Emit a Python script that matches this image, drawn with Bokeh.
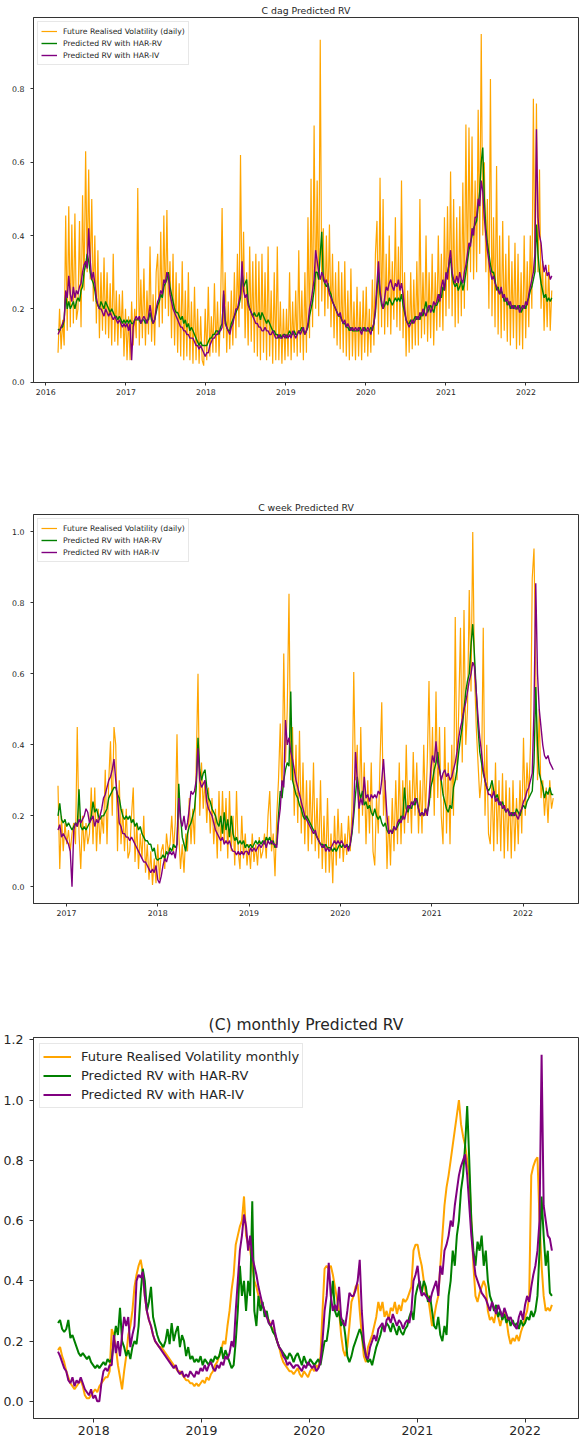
import pandas as pd
from bokeh.plotting import figure
from bokeh.models import Range1d, FixedTicker, DatetimeTickFormatter, PrintfTickFormatter
from bokeh.layouts import column
from bokeh.embed import file_html
from bokeh.resources import INLINE

FONT = "DejaVu Sans"
TEXT = "#262626"
SPINE = "#333333"
ORANGE = "orange"
GREEN = "green"
PURPLE = "purple"

# ---------------- daily chart (weekly samples) ----------------
daily_start = "2016-02-26"
daily_future_rv = [
    0.08, 0.2, 0.09, 0.17, 0.1, 0.455, 0.14, 0.48, 0.15, 0.43, 0.16, 0.46, 0.17,
    0.2, 0.44, 0.15, 0.51, 0.25, 0.63, 0.3, 0.58, 0.28, 0.5, 0.22, 0.4, 0.16,
    0.36, 0.12, 0.3, 0.14, 0.34, 0.13, 0.3, 0.12, 0.27, 0.1, 0.35, 0.11, 0.25,
    0.1, 0.24, 0.12, 0.25, 0.07, 0.2, 0.06, 0.18, 0.06, 0.22, 0.1, 0.2, 0.12,
    0.53, 0.1, 0.28, 0.12, 0.31, 0.1, 0.25, 0.13, 0.37, 0.11, 0.24, 0.1, 0.3,
    0.35, 0.15, 0.41, 0.16, 0.455, 0.2, 0.47, 0.18, 0.33, 0.12, 0.35, 0.1, 0.3,
    0.08, 0.27, 0.07, 0.33, 0.06, 0.25, 0.07, 0.3, 0.06, 0.22, 0.05, 0.26, 0.06,
    0.2, 0.05, 0.18, 0.06, 0.045, 0.2, 0.06, 0.26, 0.07, 0.18, 0.08, 0.27, 0.08,
    0.22, 0.07, 0.2, 0.475, 0.12, 0.3, 0.08, 0.22, 0.09, 0.25, 0.1, 0.3, 0.12,
    0.35, 0.15, 0.62, 0.2, 0.41, 0.12, 0.3, 0.1, 0.37, 0.11, 0.33, 0.08, 0.35,
    0.07, 0.33, 0.06, 0.35, 0.08, 0.3, 0.06, 0.37, 0.07, 0.25, 0.05, 0.3, 0.06,
    0.37, 0.06, 0.22, 0.05, 0.2, 0.06, 0.2, 0.07, 0.3, 0.06, 0.22, 0.08, 0.25,
    0.07, 0.36, 0.08, 0.25, 0.06, 0.3, 0.08, 0.45, 0.12, 0.555, 0.15, 0.7, 0.2,
    0.55, 0.18, 0.934, 0.22, 0.42, 0.18, 0.4, 0.2, 0.43, 0.15, 0.35, 0.12, 0.3,
    0.1, 0.33, 0.09, 0.3, 0.08, 0.33, 0.07, 0.25, 0.06, 0.31, 0.07, 0.22, 0.06,
    0.26, 0.07, 0.22, 0.06, 0.25, 0.08, 0.26, 0.07, 0.2, 0.08, 0.28, 0.1, 0.35,
    0.44, 0.13, 0.558, 0.15, 0.5, 0.13, 0.35, 0.15, 0.4, 0.13, 0.33, 0.17, 0.45,
    0.15, 0.37, 0.14, 0.55, 0.12, 0.3, 0.07, 0.25, 0.08, 0.3, 0.09, 0.28, 0.1,
    0.33, 0.1, 0.5, 0.12, 0.3, 0.13, 0.4, 0.11, 0.3, 0.12, 0.35, 0.1, 0.3,
    0.14, 0.4, 0.15, 0.35, 0.14, 0.45, 0.18, 0.48, 0.2, 0.575, 0.18, 0.5, 0.15,
    0.45, 0.16, 0.48, 0.18, 0.545, 0.2, 0.703, 0.25, 0.695, 0.3, 0.67, 0.28, 0.55,
    0.3, 0.743, 0.35, 0.95, 0.4, 0.6, 0.3, 0.5, 0.2, 0.827, 0.18, 0.45, 0.15,
    0.59, 0.13, 0.4, 0.12, 0.44, 0.14, 0.35, 0.11, 0.4, 0.1, 0.33, 0.12, 0.38,
    0.09, 0.35, 0.1, 0.3, 0.09, 0.4, 0.12, 0.33, 0.15, 0.4, 0.2, 0.773, 0.3,
    0.76, 0.3, 0.58, 0.2, 0.33, 0.14, 0.3, 0.15, 0.32, 0.14, 0.25,
]
daily_har_rv = [
    0.145, 0.14, 0.15, 0.15, 0.17, 0.24, 0.2, 0.22, 0.2, 0.21, 0.22, 0.2, 0.22,
    0.23, 0.22, 0.25, 0.26, 0.3, 0.32, 0.35, 0.33, 0.3, 0.28, 0.27, 0.25, 0.22,
    0.21, 0.2, 0.22, 0.21, 0.2, 0.22, 0.21, 0.2, 0.19, 0.2, 0.19, 0.18, 0.18,
    0.17, 0.18, 0.17, 0.16, 0.17, 0.16, 0.17, 0.16, 0.17, 0.16, 0.16, 0.17, 0.17,
    0.17, 0.17, 0.16, 0.17, 0.17, 0.16, 0.17, 0.17, 0.19, 0.17, 0.16, 0.17, 0.19,
    0.21, 0.22, 0.24, 0.23, 0.26, 0.27, 0.28, 0.3, 0.26, 0.24, 0.22, 0.2, 0.19,
    0.19, 0.18, 0.17, 0.18, 0.16, 0.17, 0.15, 0.16, 0.14, 0.15, 0.14, 0.13, 0.12,
    0.11, 0.1, 0.11, 0.1, 0.1, 0.1, 0.1, 0.11, 0.12, 0.12, 0.13, 0.13, 0.14,
    0.14, 0.13, 0.15, 0.16, 0.24, 0.17, 0.15, 0.14, 0.14, 0.16, 0.17, 0.18, 0.19,
    0.2, 0.21, 0.23, 0.3, 0.26, 0.27, 0.28, 0.22, 0.2, 0.19, 0.18, 0.19, 0.18,
    0.18, 0.19, 0.17, 0.19, 0.18, 0.17, 0.16, 0.17, 0.16, 0.15, 0.14, 0.14, 0.13,
    0.13, 0.12, 0.13, 0.12, 0.13, 0.13, 0.12, 0.13, 0.14, 0.13, 0.13, 0.14, 0.13,
    0.13, 0.14, 0.14, 0.15, 0.14, 0.13, 0.14, 0.15, 0.18, 0.2, 0.22, 0.25, 0.3,
    0.3, 0.28, 0.35, 0.41, 0.28, 0.27, 0.26, 0.27, 0.25, 0.24, 0.22, 0.21, 0.2,
    0.19, 0.18, 0.18, 0.17, 0.16, 0.16, 0.15, 0.15, 0.14, 0.15, 0.14, 0.14, 0.14,
    0.14, 0.14, 0.15, 0.14, 0.14, 0.15, 0.14, 0.14, 0.14, 0.15, 0.14, 0.16, 0.19,
    0.25, 0.3, 0.24, 0.21, 0.2, 0.21, 0.22, 0.21, 0.23, 0.22, 0.21, 0.22, 0.23,
    0.22, 0.23, 0.22, 0.24, 0.21, 0.19, 0.17, 0.16, 0.16, 0.17, 0.16, 0.17, 0.18,
    0.17, 0.18, 0.17, 0.19, 0.18, 0.2, 0.22, 0.19, 0.2, 0.21, 0.2, 0.19, 0.21,
    0.21, 0.22, 0.24, 0.23, 0.26, 0.25, 0.29, 0.3, 0.32, 0.34, 0.29, 0.27, 0.26,
    0.27, 0.25, 0.26, 0.28, 0.25, 0.27, 0.3, 0.33, 0.36, 0.38, 0.4, 0.42, 0.43,
    0.44, 0.48, 0.52, 0.6, 0.64, 0.5, 0.42, 0.38, 0.35, 0.32, 0.3, 0.3, 0.28,
    0.25, 0.26, 0.24, 0.25, 0.24, 0.22, 0.23, 0.21, 0.22, 0.2, 0.21, 0.2, 0.21,
    0.2, 0.2, 0.21, 0.19, 0.2, 0.21, 0.2, 0.22, 0.23, 0.25, 0.26, 0.28, 0.3,
    0.43, 0.35, 0.3, 0.27, 0.25, 0.23, 0.24, 0.22, 0.23, 0.22, 0.23,
]
daily_har_iv = [
    0.13, 0.14, 0.15, 0.16, 0.17, 0.25, 0.23, 0.29, 0.24, 0.22, 0.26, 0.23, 0.25,
    0.24, 0.26, 0.27, 0.3, 0.32, 0.33, 0.31, 0.42, 0.33, 0.28, 0.3, 0.27, 0.23,
    0.21, 0.2, 0.2, 0.19, 0.18, 0.2, 0.19, 0.18, 0.19, 0.18, 0.17, 0.18, 0.17,
    0.16, 0.17, 0.16, 0.15, 0.16, 0.15, 0.16, 0.14, 0.16, 0.06, 0.15, 0.17, 0.18,
    0.17, 0.18, 0.16, 0.17, 0.18, 0.17, 0.16, 0.18, 0.21, 0.18, 0.16, 0.17, 0.2,
    0.22, 0.23, 0.25, 0.24, 0.28, 0.27, 0.3, 0.29, 0.24, 0.22, 0.2, 0.19, 0.18,
    0.17, 0.16, 0.15, 0.15, 0.14, 0.14, 0.13, 0.13, 0.12, 0.12, 0.12, 0.11, 0.1,
    0.1, 0.09, 0.1, 0.09, 0.08, 0.07, 0.08, 0.08, 0.1, 0.11, 0.12, 0.12, 0.13,
    0.13, 0.14, 0.14, 0.15, 0.25, 0.16, 0.15, 0.14, 0.13, 0.15, 0.16, 0.18, 0.2,
    0.2, 0.22, 0.24, 0.33, 0.25, 0.23, 0.24, 0.21, 0.2, 0.19, 0.18, 0.17, 0.16,
    0.16, 0.15, 0.15, 0.14, 0.14, 0.15, 0.14, 0.14, 0.13, 0.13, 0.14, 0.13, 0.12,
    0.12, 0.13, 0.12, 0.12, 0.13, 0.12, 0.13, 0.12, 0.13, 0.12, 0.14, 0.13, 0.12,
    0.13, 0.14, 0.13, 0.14, 0.15, 0.13, 0.14, 0.16, 0.2, 0.22, 0.25, 0.28, 0.36,
    0.33, 0.3, 0.28, 0.3, 0.29, 0.27, 0.28, 0.26, 0.24, 0.23, 0.22, 0.21, 0.2,
    0.19, 0.18, 0.19, 0.17, 0.16, 0.17, 0.15, 0.16, 0.15, 0.14, 0.15, 0.14, 0.15,
    0.14, 0.15, 0.14, 0.13, 0.15, 0.14, 0.14, 0.15, 0.14, 0.13, 0.15, 0.16, 0.2,
    0.27, 0.33, 0.25, 0.22, 0.2, 0.23, 0.26, 0.25, 0.27, 0.28, 0.26, 0.25, 0.27,
    0.26, 0.28, 0.25, 0.27, 0.24, 0.2, 0.17, 0.16, 0.15, 0.16, 0.17, 0.16, 0.17,
    0.18, 0.17, 0.19, 0.18, 0.2, 0.19, 0.18, 0.2, 0.21, 0.19, 0.2, 0.22, 0.21,
    0.22, 0.24, 0.22, 0.26, 0.28, 0.25, 0.3, 0.28, 0.33, 0.36, 0.3, 0.28, 0.27,
    0.29, 0.27, 0.3, 0.28, 0.27, 0.3, 0.32, 0.35, 0.38, 0.37, 0.42, 0.4, 0.45,
    0.45, 0.5, 0.48, 0.55, 0.52, 0.45, 0.4, 0.36, 0.33, 0.3, 0.28, 0.29, 0.27,
    0.26, 0.25, 0.24, 0.26, 0.23, 0.24, 0.22, 0.23, 0.21, 0.22, 0.2, 0.21, 0.2,
    0.2, 0.21, 0.19, 0.2, 0.21, 0.2, 0.22, 0.21, 0.24, 0.26, 0.28, 0.3, 0.35,
    0.69, 0.45, 0.4, 0.38, 0.33, 0.3, 0.32, 0.29, 0.3, 0.28, 0.29,
]

# ---------------- weekly chart ----------------
week_start = "2016-11-28"
week_future_rv = [
    0.285, 0.05, 0.2, 0.1, 0.18, 0.12, 0.16, 0.1, 0.15, 0.18, 0.12, 0.45, 0.15,
    0.05, 0.2, 0.1, 0.18, 0.12, 0.15, 0.28, 0.12, 0.28, 0.1, 0.22, 0.12, 0.2,
    0.15, 0.33, 0.12, 0.3, 0.41, 0.2, 0.45, 0.4, 0.1, 0.3, 0.12, 0.22, 0.1,
    0.22, 0.08, 0.1, 0.2, 0.28, 0.07, 0.18, 0.05, 0.15, 0.08, 0.2, 0.04, 0.12,
    0.02, 0.1, 0.005, 0.08, 0.01, 0.12, 0.02, 0.1, 0.12, 0.05, 0.15, 0.1, 0.12,
    0.2, 0.1, 0.18, 0.43, 0.15, 0.05, 0.12, 0.04, 0.15, 0.1, 0.25, 0.12, 0.22,
    0.12, 0.35, 0.6, 0.2, 0.35, 0.22, 0.3, 0.18, 0.28, 0.15, 0.25, 0.12, 0.22,
    0.08, 0.27, 0.1, 0.27, 0.12, 0.25, 0.08, 0.27, 0.1, 0.2, 0.06, 0.27, 0.1,
    0.05, 0.2, 0.08, 0.15, 0.06, 0.12, 0.05, 0.15, 0.07, 0.12, 0.06, 0.14, 0.08,
    0.1, 0.15, 0.08, 0.2, 0.27, 0.1, 0.15, 0.03, 0.2, 0.3, 0.46, 0.25, 0.657,
    0.35, 0.5, 0.826, 0.3, 0.45, 0.2, 0.4, 0.18, 0.44, 0.15, 0.35, 0.12, 0.3,
    0.1, 0.3, 0.12, 0.35, 0.1, 0.25, 0.08, 0.3, 0.05, 0.2, 0.04, 0.25, 0.04,
    0.15, 0.01, 0.2, 0.06, 0.22, 0.08, 0.18, 0.07, 0.15, 0.09, 0.2, 0.1, 0.22,
    0.605, 0.3, 0.4, 0.15, 0.45, 0.2, 0.35, 0.12, 0.3, 0.15, 0.35, 0.1, 0.06,
    0.25, 0.15, 0.35, 0.52, 0.2, 0.3, 0.05, 0.2, 0.06, 0.25, 0.1, 0.3, 0.12,
    0.35, 0.12, 0.3, 0.15, 0.4, 0.18, 0.3, 0.15, 0.38, 0.2, 0.35, 0.15, 0.3,
    0.15, 0.4, 0.2, 0.35, 0.58, 0.25, 0.45, 0.2, 0.55, 0.25, 0.45, 0.2, 0.12,
    0.45, 0.15, 0.35, 0.12, 0.4, 0.2, 0.76, 0.3, 0.5, 0.73, 0.35, 0.78, 0.4,
    0.5, 0.836, 0.55, 1.0, 0.6, 0.45, 0.35, 0.25, 0.3, 0.73, 0.2, 0.4, 0.15,
    0.12, 0.3, 0.1, 0.35, 0.12, 0.3, 0.1, 0.32, 0.08, 0.3, 0.1, 0.28, 0.08,
    0.3, 0.1, 0.25, 0.12, 0.3, 0.15, 0.42, 0.2, 0.35, 0.25, 0.4, 0.87, 0.953,
    0.6, 0.3, 0.5, 0.25, 0.3, 0.2, 0.28, 0.18, 0.3, 0.22, 0.25,
]
week_har_rv = [
    0.2, 0.235, 0.19, 0.18, 0.19, 0.17, 0.18, 0.17, 0.16, 0.17, 0.18, 0.17, 0.275,
    0.17, 0.16, 0.17, 0.16, 0.17, 0.18, 0.2, 0.24, 0.21, 0.22, 0.2, 0.19, 0.2,
    0.2, 0.21, 0.22, 0.25, 0.26, 0.27, 0.28, 0.28, 0.26, 0.25, 0.22, 0.2, 0.19,
    0.2, 0.19, 0.2, 0.18, 0.19, 0.17, 0.18, 0.16, 0.17, 0.15, 0.14, 0.13, 0.13,
    0.12, 0.12, 0.1, 0.11, 0.08, 0.075, 0.08, 0.08, 0.09, 0.08, 0.1, 0.09, 0.11,
    0.1, 0.12, 0.11, 0.12, 0.29, 0.2, 0.14, 0.12, 0.1, 0.15, 0.17, 0.18, 0.2,
    0.22, 0.28, 0.42, 0.33, 0.3, 0.32, 0.33, 0.28, 0.25, 0.24, 0.22, 0.21, 0.2,
    0.18, 0.17, 0.2, 0.15, 0.21, 0.16, 0.19, 0.14, 0.2, 0.15, 0.13, 0.14, 0.12,
    0.13, 0.12, 0.13, 0.11, 0.12, 0.11, 0.12, 0.11, 0.12, 0.13, 0.12, 0.13, 0.12,
    0.13, 0.12, 0.14, 0.13, 0.14, 0.12, 0.13, 0.11, 0.12, 0.2, 0.27, 0.25, 0.3,
    0.33, 0.35, 0.34, 0.55, 0.3, 0.28, 0.26, 0.25, 0.23, 0.22, 0.2, 0.19, 0.2,
    0.19, 0.18, 0.17, 0.16, 0.15, 0.14, 0.13, 0.12, 0.12, 0.11, 0.12, 0.11, 0.11,
    0.11, 0.1, 0.11, 0.1, 0.11, 0.12, 0.11, 0.12, 0.11, 0.12, 0.11, 0.12, 0.15,
    0.2, 0.26, 0.31, 0.27, 0.25, 0.27, 0.23, 0.24, 0.22, 0.23, 0.21, 0.2, 0.22,
    0.2, 0.19, 0.2, 0.18, 0.17, 0.18, 0.16, 0.15, 0.16, 0.15, 0.17, 0.16, 0.17,
    0.18, 0.2, 0.19, 0.28, 0.22, 0.21, 0.23, 0.22, 0.24, 0.23, 0.25, 0.22, 0.2,
    0.21, 0.2, 0.22, 0.21, 0.23, 0.28, 0.3, 0.33, 0.35, 0.38, 0.33, 0.3, 0.26,
    0.24, 0.22, 0.21, 0.23, 0.22, 0.28, 0.3, 0.33, 0.38, 0.42, 0.45, 0.5, 0.55,
    0.58, 0.6, 0.68, 0.74, 0.65, 0.55, 0.45, 0.38, 0.35, 0.32, 0.3, 0.28, 0.27,
    0.28, 0.3, 0.27, 0.25, 0.26, 0.24, 0.23, 0.24, 0.22, 0.21, 0.22, 0.21, 0.2,
    0.21, 0.2, 0.22, 0.21, 0.2, 0.22, 0.23, 0.22, 0.24, 0.25, 0.26, 0.27, 0.35,
    0.563, 0.4, 0.32, 0.3, 0.28, 0.25, 0.27, 0.26, 0.28, 0.26, 0.26,
]
week_har_iv = [
    0.16, 0.175, 0.14, 0.15, 0.14, 0.13, 0.12, 0.1, 0.0, 0.16, 0.18, 0.17, 0.19,
    0.18, 0.19, 0.2, 0.22, 0.21, 0.18, 0.19, 0.2, 0.17, 0.19, 0.18, 0.2, 0.22,
    0.25, 0.26, 0.28, 0.3, 0.31, 0.33, 0.36, 0.3, 0.25, 0.18, 0.17, 0.15, 0.15,
    0.14, 0.14, 0.13, 0.14, 0.13, 0.12, 0.11, 0.1, 0.09, 0.08, 0.07, 0.07, 0.06,
    0.05, 0.04, 0.05, 0.04, 0.06, 0.02, 0.01, 0.03, 0.06, 0.08, 0.07, 0.09, 0.1,
    0.09, 0.1, 0.08, 0.12, 0.25, 0.19, 0.17, 0.2, 0.16, 0.18, 0.22, 0.27, 0.26,
    0.27, 0.3, 0.39, 0.3, 0.28, 0.29, 0.3, 0.24, 0.22, 0.21, 0.2, 0.18, 0.16,
    0.15, 0.14, 0.13, 0.14, 0.12, 0.13, 0.12, 0.13, 0.11, 0.1, 0.1, 0.09, 0.1,
    0.09, 0.1, 0.09, 0.1, 0.1, 0.09, 0.11, 0.1, 0.11, 0.1, 0.11, 0.12, 0.11,
    0.12, 0.13, 0.11, 0.13, 0.12, 0.13, 0.12, 0.12, 0.11, 0.18, 0.22, 0.3, 0.28,
    0.47, 0.4, 0.42, 0.38, 0.36, 0.33, 0.3, 0.28, 0.26, 0.24, 0.22, 0.2, 0.19,
    0.18, 0.17, 0.16, 0.15, 0.16, 0.14, 0.13, 0.12, 0.11, 0.12, 0.1, 0.11, 0.1,
    0.11, 0.12, 0.13, 0.12, 0.13, 0.12, 0.13, 0.12, 0.11, 0.12, 0.1, 0.12, 0.16,
    0.22, 0.38, 0.3, 0.22, 0.25, 0.23, 0.31, 0.25, 0.26, 0.24, 0.26, 0.25, 0.26,
    0.25, 0.27, 0.26, 0.3, 0.36, 0.28, 0.2, 0.15, 0.16, 0.15, 0.17, 0.16, 0.18,
    0.19, 0.18, 0.2, 0.19, 0.21, 0.23, 0.22, 0.24, 0.23, 0.25, 0.24, 0.22, 0.2,
    0.21, 0.2, 0.22, 0.2, 0.25, 0.33, 0.37, 0.35, 0.41, 0.35, 0.33, 0.3, 0.32,
    0.33, 0.31, 0.32, 0.3, 0.31, 0.33, 0.35, 0.38, 0.42, 0.45, 0.47, 0.5, 0.52,
    0.55, 0.58, 0.6, 0.633, 0.62, 0.55, 0.48, 0.42, 0.38, 0.33, 0.3, 0.28, 0.26,
    0.26, 0.25, 0.27, 0.24, 0.25, 0.23, 0.24, 0.22, 0.23, 0.21, 0.22, 0.2, 0.21,
    0.2, 0.21, 0.2, 0.19, 0.21, 0.22, 0.24, 0.25, 0.27, 0.28, 0.3, 0.32, 0.5,
    0.855, 0.6, 0.5, 0.45, 0.4, 0.37, 0.36, 0.37, 0.35, 0.34, 0.33,
]

# ---------------- monthly chart ----------------
month_start = "2017-09-02"
month_future_rv = [
    0.17, 0.18, 0.15, 0.13, 0.1, 0.08, 0.06, 0.05, 0.04, 0.05, 0.06, 0.07, 0.05,
    0.02, 0.01, 0.01, 0.02, 0.03, 0.04, 0.03, 0.05, 0.06, 0.07, 0.08, 0.08, 0.1,
    0.24, 0.22, 0.18, 0.12, 0.08, 0.04, 0.1, 0.15, 0.22, 0.25, 0.3, 0.38, 0.42,
    0.45, 0.47, 0.43, 0.35, 0.3, 0.27, 0.25, 0.22, 0.2, 0.19, 0.18, 0.18, 0.17,
    0.16, 0.15, 0.14, 0.13, 0.12, 0.11, 0.1, 0.1, 0.09, 0.08, 0.07, 0.07, 0.06,
    0.06, 0.05, 0.06, 0.05, 0.06, 0.07, 0.06, 0.08, 0.07, 0.09, 0.1, 0.12, 0.13,
    0.15, 0.17, 0.2, 0.19, 0.25, 0.3, 0.37, 0.42, 0.52, 0.55, 0.58, 0.6, 0.68,
    0.55, 0.52, 0.5, 0.45, 0.4, 0.38, 0.35, 0.33, 0.32, 0.3, 0.28, 0.27, 0.25,
    0.24, 0.22, 0.2, 0.18, 0.15, 0.13, 0.12, 0.11, 0.1, 0.1, 0.09, 0.1, 0.11,
    0.09, 0.08, 0.1, 0.09, 0.08, 0.1, 0.11, 0.1, 0.12, 0.11, 0.15, 0.3, 0.44,
    0.45, 0.44, 0.45, 0.42, 0.38, 0.34, 0.3, 0.22, 0.17, 0.15, 0.18, 0.25, 0.33,
    0.35, 0.38, 0.39, 0.3, 0.22, 0.15, 0.13, 0.18, 0.2, 0.22, 0.25, 0.28, 0.33,
    0.3, 0.33, 0.28, 0.3, 0.27, 0.31, 0.3, 0.33, 0.29, 0.32, 0.3, 0.34, 0.33,
    0.34, 0.36, 0.38, 0.5, 0.52, 0.52, 0.48, 0.45, 0.4, 0.36, 0.35, 0.3, 0.25,
    0.28, 0.32, 0.35, 0.45, 0.55, 0.65, 0.71, 0.75, 0.8, 0.85, 0.9, 0.95, 1.0,
    0.92, 0.88, 0.85, 0.8, 0.75, 0.6, 0.45, 0.35, 0.33, 0.36, 0.38, 0.4, 0.38,
    0.3, 0.27, 0.28, 0.26, 0.3, 0.28, 0.25, 0.28, 0.3, 0.27, 0.22, 0.19, 0.21,
    0.2, 0.22, 0.2, 0.23, 0.25, 0.28, 0.3, 0.35, 0.75, 0.78, 0.8, 0.81, 0.6,
    0.45, 0.35, 0.3, 0.31, 0.3, 0.32,
]
month_har_rv = [
    0.26, 0.27, 0.24, 0.23, 0.24, 0.27, 0.21, 0.22, 0.2, 0.18, 0.16, 0.15, 0.16,
    0.15, 0.14, 0.15, 0.13, 0.12, 0.11, 0.12, 0.11, 0.12, 0.13, 0.12, 0.14, 0.13,
    0.14, 0.2, 0.25, 0.22, 0.31, 0.2, 0.18, 0.15, 0.17, 0.14, 0.18, 0.2, 0.19,
    0.25, 0.36, 0.44, 0.4, 0.3, 0.33, 0.38, 0.28, 0.25, 0.22, 0.2, 0.19, 0.18,
    0.2, 0.24, 0.19, 0.26, 0.2, 0.23, 0.25, 0.18, 0.22, 0.2, 0.15, 0.18, 0.14,
    0.15, 0.13, 0.14, 0.13, 0.15, 0.12, 0.14, 0.13, 0.12, 0.14, 0.13, 0.15, 0.14,
    0.15, 0.18, 0.14, 0.17, 0.15, 0.13, 0.11, 0.12, 0.2, 0.3, 0.45, 0.35, 0.4,
    0.3, 0.4, 0.35, 0.664, 0.3, 0.25, 0.35, 0.3, 0.33, 0.28, 0.3, 0.26, 0.25,
    0.23, 0.22, 0.2, 0.18, 0.17, 0.16, 0.15, 0.14, 0.16, 0.15, 0.13, 0.15, 0.16,
    0.14, 0.12, 0.15, 0.13, 0.12, 0.14, 0.13, 0.12, 0.13, 0.14, 0.12, 0.16, 0.2,
    0.2, 0.25, 0.33, 0.4, 0.3, 0.28, 0.3, 0.25, 0.27, 0.22, 0.15, 0.13, 0.15,
    0.18, 0.2, 0.22, 0.24, 0.22, 0.18, 0.15, 0.13, 0.14, 0.12, 0.15, 0.18, 0.2,
    0.22, 0.25, 0.24, 0.26, 0.25, 0.23, 0.26, 0.24, 0.22, 0.25, 0.23, 0.22, 0.24,
    0.25, 0.28, 0.3, 0.27, 0.35, 0.38, 0.4, 0.36, 0.4, 0.38, 0.33, 0.35, 0.3,
    0.25, 0.24, 0.28, 0.22, 0.2, 0.25, 0.22, 0.35, 0.4, 0.5, 0.45, 0.55, 0.6,
    0.7, 0.75, 0.85, 0.98, 0.8, 0.6, 0.5, 0.45, 0.53, 0.5, 0.55, 0.45, 0.5,
    0.4, 0.35, 0.33, 0.3, 0.32, 0.28, 0.3, 0.27, 0.29, 0.26, 0.28, 0.25, 0.27,
    0.25, 0.26, 0.24, 0.27, 0.25, 0.26, 0.28, 0.27, 0.3, 0.28, 0.3, 0.35, 0.5,
    0.68, 0.55, 0.45, 0.5, 0.36, 0.35,
]
month_har_iv = [
    0.165, 0.15, 0.13, 0.11, 0.1, 0.07, 0.06, 0.08, 0.05, 0.07, 0.06, 0.08, 0.06,
    0.04, 0.03, 0.02, 0.04, 0.01, 0.02, 0.0, 0.0, 0.06, 0.1, 0.11, 0.1, 0.12,
    0.12, 0.22, 0.16, 0.2, 0.15, 0.22, 0.28, 0.25, 0.28, 0.18, 0.22, 0.25, 0.4,
    0.42, 0.41, 0.43, 0.35, 0.3, 0.27, 0.25, 0.22, 0.2, 0.19, 0.18, 0.17, 0.16,
    0.15, 0.14, 0.13, 0.12, 0.11, 0.12, 0.1, 0.09, 0.1, 0.08, 0.09, 0.08, 0.1,
    0.09, 0.08, 0.1, 0.09, 0.11, 0.1, 0.12, 0.1, 0.12, 0.13, 0.11, 0.1, 0.12,
    0.11, 0.13, 0.12, 0.15, 0.14, 0.16, 0.2, 0.18, 0.3, 0.4, 0.5, 0.55, 0.62,
    0.58, 0.5, 0.55, 0.48, 0.45, 0.42, 0.38, 0.35, 0.32, 0.3, 0.28, 0.26, 0.25,
    0.27, 0.23, 0.2, 0.18, 0.17, 0.15, 0.14, 0.12, 0.13, 0.12, 0.11, 0.12, 0.12,
    0.11, 0.1, 0.12, 0.11, 0.13, 0.12, 0.11, 0.12, 0.1, 0.11, 0.13, 0.2, 0.3,
    0.35, 0.46, 0.35, 0.3, 0.32, 0.3, 0.38, 0.28, 0.26, 0.25, 0.3, 0.36, 0.35,
    0.35, 0.37, 0.4, 0.47, 0.3, 0.2, 0.15, 0.14, 0.18, 0.2, 0.22, 0.2, 0.24,
    0.25, 0.26, 0.23, 0.27, 0.28, 0.26, 0.29, 0.27, 0.25, 0.27, 0.26, 0.24, 0.26,
    0.27, 0.26, 0.3, 0.4, 0.42, 0.45, 0.38, 0.35, 0.36, 0.35, 0.34, 0.33, 0.36,
    0.38, 0.4, 0.35, 0.45, 0.42, 0.5, 0.52, 0.55, 0.6, 0.58, 0.65, 0.7, 0.75,
    0.78, 0.8, 0.82, 0.75, 0.65, 0.55, 0.48, 0.42, 0.4, 0.38, 0.36, 0.35, 0.34,
    0.32, 0.3, 0.33, 0.31, 0.29, 0.32, 0.3, 0.28, 0.31, 0.29, 0.27, 0.28, 0.26,
    0.25, 0.24, 0.28, 0.3, 0.27, 0.32, 0.35, 0.33, 0.38, 0.42, 0.45, 0.5, 0.6,
    1.15, 0.65, 0.6, 0.55, 0.54, 0.5,
]

titles = ["C dag Predicted RV", "C week Predicted RV", "(C) monthly Predicted RV"]
labels_daily = ["Future Realised Volatility (daily)", "Predicted RV with HAR-RV", "Predicted RV with HAR-IV"]
labels_month = ["Future Realised Volatility monthly", "Predicted RV with HAR-RV", "Predicted RV with HAR-IV"]
years_daily = [2016, 2017, 2018, 2019, 2020, 2021, 2022]
years_week = [2017, 2018, 2019, 2020, 2021, 2022]
years_month = [2018, 2019, 2020, 2021, 2022]
yticks_top = [0.0, 0.2, 0.4, 0.6, 0.8]
yticks_mid = [0.0, 0.2, 0.4, 0.6, 0.8, 1.0]
yticks_bot = [0.0, 0.2, 0.4, 0.6, 0.8, 1.0, 1.2]


def make(title, start, series, labels, xr, yr, years, yticks, height, bt, bb, bl,
         tick_fs, title_fs, leg_fs, lws, leg_margin, leg_pad, leg_row, glyph_w, standoff_lbl,
         tick_len, title_standoff):
    p = figure(width=579, height=height, x_axis_type="datetime",
               x_range=Range1d(pd.Timestamp(xr[0]), pd.Timestamp(xr[1])),
               y_range=Range1d(yr[0], yr[1]),
               output_backend="svg", toolbar_location=None,
               min_border_top=bt, min_border_bottom=bb, min_border_left=bl, min_border_right=1)
    colors = [ORANGE, GREEN, PURPLE]
    for vals, col, lab, lw in zip(series, colors, labels, lws):
        dates = pd.date_range(start, periods=len(vals), freq="7D")
        p.line(dates, vals, line_color=col, line_width=lw, legend_label=lab)

    p.title.text = title
    p.title.align = "center"
    p.title.text_font = FONT
    p.title.text_font_size = title_fs
    p.title.text_font_style = "normal"
    p.title.text_color = TEXT
    p.title.standoff = title_standoff

    p.xaxis.ticker = FixedTicker(ticks=[pd.Timestamp(f"{y}-01-01").value / 1e6 for y in years])
    p.xaxis.formatter = DatetimeTickFormatter(years="%Y", months="%Y", days="%Y", hours="%Y",
                                              minutes="%Y", seconds="%Y", milliseconds="%Y",
                                              microseconds="%Y", minsec="%Y", hourmin="%Y")
    p.yaxis.ticker = FixedTicker(ticks=yticks)
    p.yaxis.formatter = PrintfTickFormatter(format="%.1f")
    for ax in (p.xaxis, p.yaxis):
        ax.major_label_text_font = FONT
        ax.major_label_text_font_size = tick_fs
        ax.major_label_text_color = TEXT
        ax.axis_line_color = SPINE
        ax.major_tick_line_color = SPINE
        ax.major_tick_out = tick_len
        ax.major_tick_in = 0
        ax.minor_tick_line_color = None
    p.xaxis.major_label_standoff = 3
    p.yaxis.major_label_standoff = 6
    p.grid.visible = False
    p.outline_line_color = SPINE
    p.outline_line_alpha = 1.0
    p.background_fill_color = "white"
    p.border_fill_color = "white"

    lg = p.legend[0]
    lg.location = "top_left"
    lg.margin = leg_margin
    lg.padding = leg_pad
    lg.spacing = 0
    lg.label_height = leg_row
    lg.glyph_height = leg_row
    lg.glyph_width = glyph_w
    lg.label_standoff = standoff_lbl
    lg.label_text_font = FONT
    lg.label_text_font_size = leg_fs
    lg.label_text_color = TEXT
    lg.border_line_color = "#d0d0d0"
    lg.border_line_width = 1
    lg.background_fill_alpha = 0.85
    return p


# the page template has no body margin, so the column starts at the top-left corner
p1 = make(titles[0], daily_start, [daily_future_rv, daily_har_rv, daily_har_iv], labels_daily,
          ("2015-11-06", "2022-08-29"), (-0.001, 0.995), years_daily, yticks_top,
          496, 17, 114, 31, "7.8px", "9.3px", "7.7px", (1.2, 1.4, 1.4), 4, 3, 12, 16, 6, 3, 3)
p2 = make(titles[1], week_start, [week_future_rv, week_har_rv, week_har_iv], labels_daily,
          ("2016-08-22", "2022-08-11"), (-0.047, 1.049), years_week, yticks_mid,
          513, 18, 106, 31, "7.8px", "9.3px", "7.7px", (1.2, 1.4, 1.4), 4, 3, 12, 16, 6, 3, 3)
p3 = make(titles[2], month_start, [month_future_rv, month_har_rv, month_har_iv], labels_month,
          ("2017-06-11", "2022-07-01"), (-0.057, 1.2076), years_month, yticks_bot,
          434, 27, 25, 32, "12.5px", "15.5px", "13px", (2.0, 2.0, 2.0), 6, 3, 19, 28, 10, 4, 8)

layout = column(p1, p2, p3, spacing=0)
open("out.html", "w").write(file_html(layout, INLINE))
